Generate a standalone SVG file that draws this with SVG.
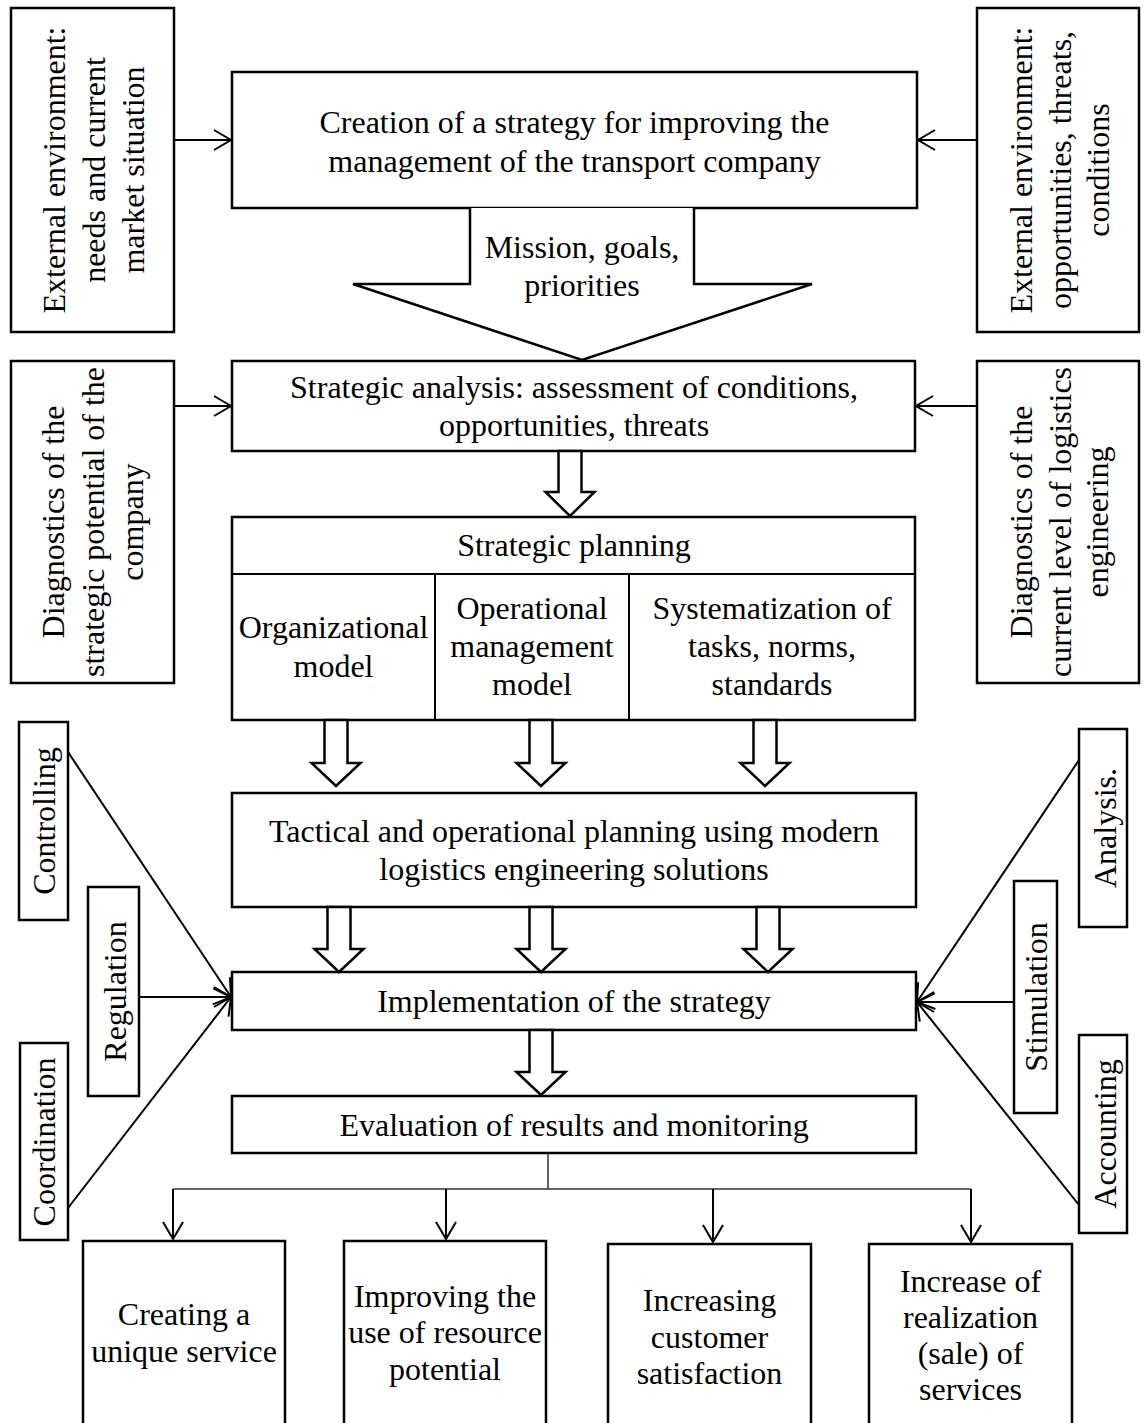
<svg xmlns="http://www.w3.org/2000/svg" width="1144" height="1423" viewBox="0 0 1144 1423">
  <style>
    .box { fill: #fff; stroke: #000; stroke-width: 2.5; }
    .t { font-family: "Liberation Serif", "Times New Roman", serif; font-size: 32px; text-anchor: middle; fill: #000; }
    .ln { fill: none; stroke: #000; stroke-width: 2; }
    .thin { fill: none; stroke: #333; stroke-width: 1.5; }
    .hollow { fill: #fff; stroke: #000; stroke-width: 2.5; stroke-linejoin: miter; }
  </style>
  <defs>
    <marker id="vee" viewBox="-20 -12 22 24" refX="0" refY="0" markerWidth="22" markerHeight="24" markerUnits="userSpaceOnUse" orient="auto">
      <path d="M-17,-10 L0,0 L-17,10" fill="none" stroke="#000" stroke-width="2"/>
    </marker>
  </defs>
  <rect width="1144" height="1423" fill="#fff"/>

  <!-- main column -->
  <g id="creation">
    <rect class="box" x="232" y="72" width="685" height="136"/>
    <text class="t" x="574.5" y="133">Creation of a strategy for improving the</text>
    <text class="t" x="574.5" y="172">management of the transport company</text>
  </g>

  <g id="mission">
    <path class="hollow" d="M470,208 V284 H353 L582,360 L812,284 H694 V208"/>
    <text class="t" x="582" y="258">Mission, goals,</text>
    <text class="t" x="582" y="296">priorities</text>
  </g>

  <g id="analysis-box">
    <rect class="box" x="232" y="361" width="683" height="90"/>
    <text class="t" x="574" y="398">Strategic analysis: assessment of conditions,</text>
    <text class="t" x="574" y="436">opportunities, threats</text>
  </g>

  <g id="planning">
    <rect class="box" x="232" y="517" width="683" height="203"/>
    <path class="ln" d="M232,574 H915 M435,574 V720 M629,574 V720" stroke-width="2.5"/>
    <text class="t" x="574" y="556">Strategic planning</text>
    <text class="t" x="333.5" y="638">Organizational</text>
    <text class="t" x="333.5" y="677">model</text>
    <text class="t" x="532" y="619">Operational</text>
    <text class="t" x="532" y="657">management</text>
    <text class="t" x="532" y="695">model</text>
    <text class="t" x="772" y="619">Systematization of</text>
    <text class="t" x="772" y="657">tasks, norms,</text>
    <text class="t" x="772" y="695">standards</text>
  </g>

  <g id="tactical">
    <rect class="box" x="232" y="793" width="684" height="114"/>
    <text class="t" x="574" y="842">Tactical and operational planning using modern</text>
    <text class="t" x="574" y="880">logistics engineering solutions</text>
  </g>

  <g id="implementation">
    <rect class="box" x="232" y="972" width="684" height="58"/>
    <text class="t" x="574" y="1012">Implementation of the strategy</text>
  </g>

  <g id="evaluation">
    <rect class="box" x="232" y="1096" width="684" height="57"/>
    <text class="t" x="574" y="1136">Evaluation of results and monitoring</text>
  </g>

  <!-- environment and diagnostics -->
  <g id="env-needs">
    <rect class="box" x="11" y="8" width="163" height="324"/>
    <g transform="translate(92.5,170) rotate(-90)">
      <text class="t" x="0" y="-27.5">External environment:</text>
      <text class="t" x="0" y="12.5">needs and current</text>
      <text class="t" x="0" y="51.5">market situation</text>
    </g>
  </g>

  <g id="env-opportunities">
    <rect class="box" x="977" y="8" width="162" height="324"/>
    <g transform="translate(1058,170) rotate(-90)">
      <text class="t" x="0" y="-26">External environment:</text>
      <text class="t" x="0" y="13">opportunities, threats,</text>
      <text class="t" x="0" y="51">conditions</text>
    </g>
  </g>

  <g id="diag-potential">
    <rect class="box" x="11" y="361" width="163" height="322"/>
    <g transform="translate(92.5,522) rotate(-90)">
      <text class="t" x="0" y="-28.5">Diagnostics of the</text>
      <text class="t" x="0" y="11.5">strategic potential of the</text>
      <text class="t" x="0" y="50.5">company</text>
    </g>
  </g>

  <g id="diag-logistics">
    <rect class="box" x="977" y="361" width="162" height="322"/>
    <g transform="translate(1058,522) rotate(-90)">
      <text class="t" x="0" y="-26">Diagnostics of the</text>
      <text class="t" x="0" y="13">current level of logistics</text>
      <text class="t" x="0" y="50">engineering</text>
    </g>
  </g>

  <!-- management functions -->
  <g id="controlling">
    <rect class="box" x="19" y="722" width="49" height="198"/>
    <text class="t" transform="translate(43.5,821) rotate(-90)" x="0" y="11.5">Controlling</text>
  </g>
  <g id="regulation">
    <rect class="box" x="88" y="887" width="51" height="209"/>
    <text class="t" transform="translate(113.5,991.5) rotate(-90)" x="0" y="12.5">Regulation</text>
  </g>
  <g id="coordination">
    <rect class="box" x="20" y="1043" width="48" height="197"/>
    <text class="t" transform="translate(44,1142) rotate(-90)" x="0" y="11">Coordination</text>
  </g>
  <g id="analysis-fn">
    <rect class="box" x="1079" y="729" width="48" height="198"/>
    <text class="t" transform="translate(1103,828) rotate(-90)" x="0" y="13">Analysis.</text>
  </g>
  <g id="stimulation">
    <rect class="box" x="1014" y="881" width="43" height="232"/>
    <text class="t" transform="translate(1035.5,997) rotate(-90)" x="0" y="11.5">Stimulation</text>
  </g>
  <g id="accounting">
    <rect class="box" x="1079" y="1035" width="48" height="198"/>
    <text class="t" transform="translate(1103,1134) rotate(-90)" x="0" y="13">Accounting</text>
  </g>

  <!-- outcomes -->
  <g id="unique-service">
    <rect class="box" x="83" y="1241" width="202" height="200"/>
    <text class="t" x="184" y="1325">Creating a</text>
    <text class="t" x="184" y="1362">unique service</text>
  </g>
  <g id="resource-potential">
    <rect class="box" x="344" y="1241" width="202" height="200"/>
    <text class="t" x="445" y="1307">Improving the</text>
    <text class="t" x="445" y="1343">use of resource</text>
    <text class="t" x="445" y="1380">potential</text>
  </g>
  <g id="customer-satisfaction">
    <rect class="box" x="608" y="1244" width="203" height="200"/>
    <text class="t" x="709.5" y="1311">Increasing</text>
    <text class="t" x="709.5" y="1348">customer</text>
    <text class="t" x="709.5" y="1384">satisfaction</text>
  </g>
  <g id="sales">
    <rect class="box" x="869" y="1244" width="203" height="200"/>
    <text class="t" x="970.5" y="1292">Increase of</text>
    <text class="t" x="970.5" y="1328">realization</text>
    <text class="t" x="970.5" y="1364">(sale) of</text>
    <text class="t" x="970.5" y="1400">services</text>
  </g>

  <g id="connectors">
    <!-- inputs into the top blocks -->
    <line class="ln" x1="174" y1="140" x2="231" y2="140" marker-end="url(#vee)"/>
    <line class="ln" x1="977" y1="140" x2="918" y2="140" marker-end="url(#vee)"/>
    <line class="ln" x1="174" y1="406" x2="231" y2="406" marker-end="url(#vee)"/>
    <line class="ln" x1="977" y1="406" x2="916" y2="406" marker-end="url(#vee)"/>

    <!-- block arrows between stages -->
    <g class="hollow">
      <path d="M558.5,451 V492 H545.5 L570,516 L594.5,492 H581.5 V451 Z"/>
      <path d="M324.5,720 V763 H311.5 L336,786 L360.5,763 H347.5 V720 Z"/>
      <path d="M529.5,720 V763 H516.5 L541,786 L565.5,763 H552.5 V720 Z"/>
      <path d="M753.5,720 V763 H740.5 L765,786 L789.5,763 H776.5 V720 Z"/>
      <path d="M327.5,907 V949 H314.5 L339,972 L363.5,949 H350.5 V907 Z"/>
      <path d="M529.5,907 V949 H516.5 L541,972 L565.5,949 H552.5 V907 Z"/>
      <path d="M756.5,907 V949 H743.5 L768,972 L792.5,949 H779.5 V907 Z"/>
      <path d="M529.5,1030 V1072 H516.5 L541,1095 L565.5,1072 H552.5 V1030 Z"/>
    </g>

    <!-- management functions into implementation -->
    <line class="ln" x1="68" y1="752" x2="231" y2="997" marker-end="url(#vee)"/>
    <line class="ln" x1="139" y1="997" x2="231" y2="997" marker-end="url(#vee)"/>
    <line class="ln" x1="68" y1="1208" x2="231" y2="997" marker-end="url(#vee)"/>
    <line class="ln" x1="1079" y1="760" x2="917" y2="1002" marker-end="url(#vee)"/>
    <line class="ln" x1="1014" y1="1002" x2="917" y2="1002" marker-end="url(#vee)"/>
    <line class="ln" x1="1079" y1="1205" x2="917" y2="1002" marker-end="url(#vee)"/>

    <!-- results branch -->
    <path class="thin" d="M548,1153 V1189 M173,1189 H971"/>
    <line class="ln" x1="173" y1="1189" x2="173" y2="1239" marker-end="url(#vee)"/>
    <line class="ln" x1="446" y1="1189" x2="446" y2="1239" marker-end="url(#vee)"/>
    <line class="ln" x1="713" y1="1189" x2="713" y2="1242" marker-end="url(#vee)"/>
    <line class="ln" x1="971" y1="1189" x2="971" y2="1242" marker-end="url(#vee)"/>
  </g>
</svg>
